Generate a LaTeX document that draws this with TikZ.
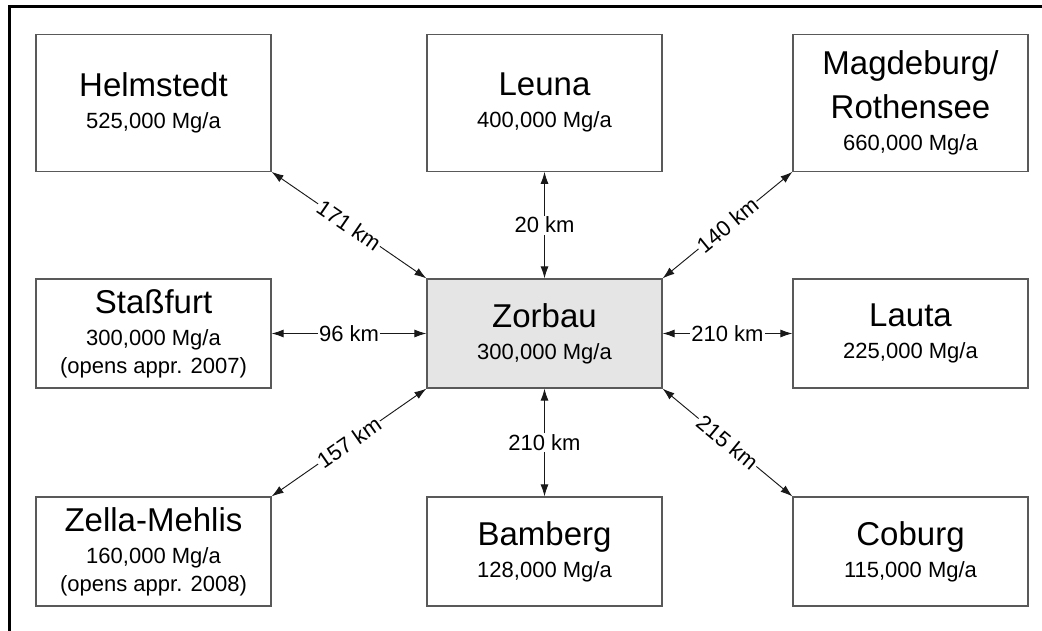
\documentclass[tikz,border=0pt]{standalone}
\usepackage{fontspec}
\setmainfont{Liberation Sans}
\usepackage{tikz}
\usetikzlibrary{arrows.meta, positioning}
\newcommand{\mybig}{\fontsize{24.75}{30}\selectfont}
\newcommand{\mysmall}{\fontsize{16.5}{19}\selectfont}
\tikzset{mybox/.style = {draw=black!65, line width=0.9pt, fill=#1, minimum width=176.25pt,
		minimum height=81.75pt, align=center, inner sep=0pt, font=\mysmall},
	mybox/.default = white,
	mylink/.style = {{Latex[length=9pt,width=6pt]}-{Latex[length=9pt,width=6pt]}, line width=0.7pt, black!90},
	mylabel/.style = {fill=white, inner sep=1pt, font=\mysmall, text=black}}
\NewDocumentCommand{\flink}{O{} m m m}{%
	\draw[mylink] (#2) -- node[mylabel,#1] {#4} (#3);
}
\begin{document}
\begin{tikzpicture}[x=0.75pt, y=-0.75pt]
\useasboundingbox (0,0) rectangle (1042,631);
\draw[line width=1.9pt] (9.5,631) -- (9.5,6.5) -- (1042,6.5);
% top row
\node[mybox, minimum height=102.75pt] (helm) at (153.5,102.75) {{\mybig Helmstedt}\\[5pt]525,000 Mg/a};
\node[mybox, minimum height=102.75pt] (leuna) at (544.5,102.75) {{\mybig Leuna}\\[5pt]400,000 Mg/a};
\node[mybox, minimum height=102.75pt] (magd) at (910.5,102.75) {{\mybig Magdeburg/}\\[9pt]{\mybig Rothensee}\\[5pt]660,000 Mg/a};
% middle row
\node[mybox] (stass) at (153.5,333.5) {{\mybig Staßfurt}\\[5.5pt]300,000 Mg/a\\[1.5pt](opens appr. 2007)};
\node[mybox=black!10] (zorbau) at (544.5,333.5) {{\mybig Zorbau}\\[5pt]300,000 Mg/a};
\node[mybox] (lauta) at (910.5,333.5) {{\mybig Lauta}\\[5pt]225,000 Mg/a};
% bottom row
\node[mybox] (zella) at (153.5,551.5) {{\mybig Zella-Mehlis}\\[5.5pt]160,000 Mg/a\\[1.5pt](opens appr. 2008)};
\node[mybox] (bamb) at (544.5,551.5) {{\mybig Bamberg}\\[5pt]128,000 Mg/a};
\node[mybox] (cob) at (910.5,551.5) {{\mybig Coburg}\\[5pt]115,000 Mg/a};
% distances
\flink[sloped]{helm.south east}{zorbau.north west}{171 km}
\flink{leuna.south}{zorbau.north}{20 km}
\flink[sloped]{magd.south west}{zorbau.north east}{140 km}
\flink{stass.east}{zorbau.west}{96 km}
\flink{lauta.west}{zorbau.east}{210 km}
\flink[sloped]{zella.north east}{zorbau.south west}{157 km}
\flink{bamb.north}{zorbau.south}{210 km}
\flink[sloped]{cob.north west}{zorbau.south east}{215 km}
\end{tikzpicture}
\end{document}
